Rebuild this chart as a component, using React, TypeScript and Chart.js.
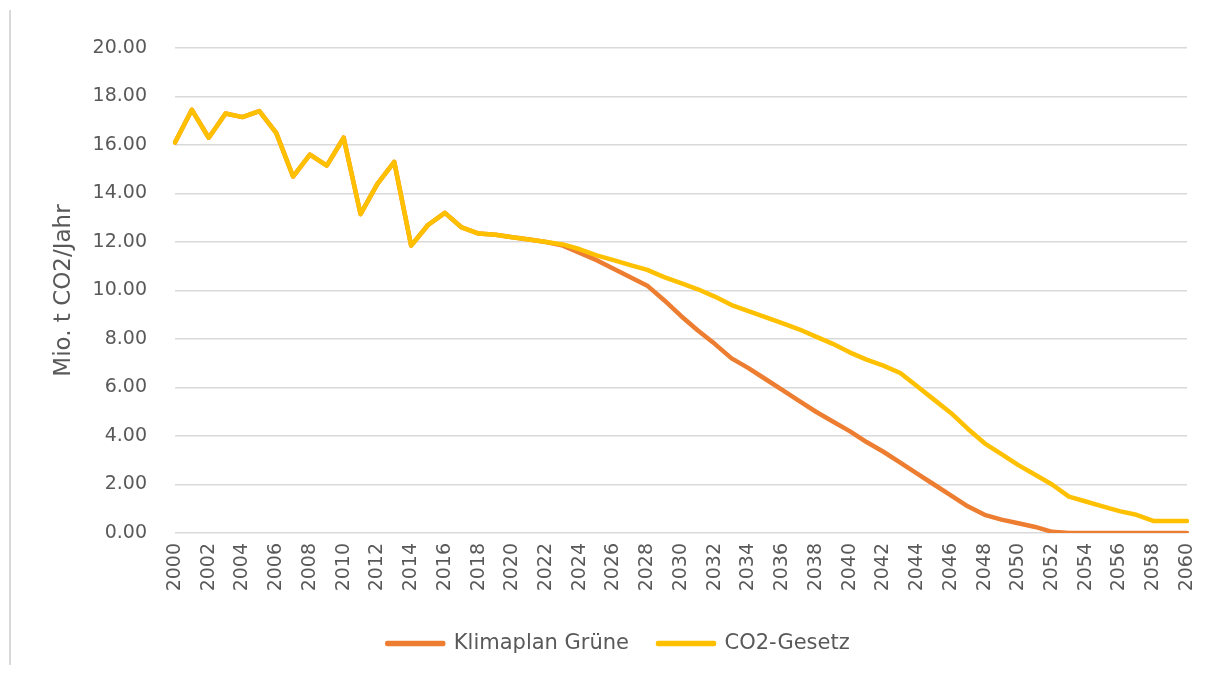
import React, { useEffect, useRef } from "react";
import { Chart, registerables } from "chart.js";

Chart.register(...registerables);

const years = [
  "2000", "2001", "2002", "2003", "2004", "2005", "2006", "2007", "2008", "2009",
  "2010", "2011", "2012", "2013", "2014", "2015", "2016", "2017", "2018", "2019",
  "2020", "2021", "2022", "2023", "2024", "2025", "2026", "2027", "2028", "2029",
  "2030", "2031", "2032", "2033", "2034", "2035", "2036", "2037", "2038", "2039",
  "2040", "2041", "2042", "2043", "2044", "2045", "2046", "2047", "2048", "2049",
  "2050", "2051", "2052", "2053", "2054", "2055", "2056", "2057", "2058", "2059",
  "2060",
];

const klimaplanGruene = [
  16.1, 17.45, 16.3, 17.3, 17.15, 17.4, 16.5, 14.7, 15.6, 15.15,
  16.3, 13.15, 14.4, 15.3, 11.85, 12.7, 13.2, 12.6, 12.35, 12.3,
  12.2, 12.1, 12.0, 11.85, 11.55, 11.25, 10.9, 10.55, 10.2, 9.6,
  8.95, 8.35, 7.8, 7.2, 6.8, 6.35, 5.9, 5.45, 5.0, 4.6,
  4.2, 3.75, 3.35, 2.9, 2.45, 2.0, 1.55, 1.1, 0.75, 0.55,
  0.4, 0.25, 0.05, 0, 0, 0, 0, 0, 0, 0,
  0,
];

const co2Gesetz = [
  16.1, 17.45, 16.3, 17.3, 17.15, 17.4, 16.5, 14.7, 15.6, 15.15,
  16.3, 13.15, 14.4, 15.3, 11.85, 12.7, 13.2, 12.6, 12.35, 12.3,
  12.2, 12.1, 12.0, 11.9, 11.7, 11.45, 11.25, 11.05, 10.85, 10.55,
  10.3, 10.05, 9.75, 9.4, 9.15, 8.9, 8.65, 8.4, 8.1, 7.8,
  7.45, 7.15, 6.9, 6.6, 6.05, 5.5, 4.95, 4.3, 3.7, 3.25,
  2.8, 2.4, 2.0, 1.5, 1.3, 1.1, 0.9, 0.75, 0.5, 0.5,
  0.5,
];

const yMin = 0;
const yMax = 20;
const yStep = 2;

const FONT = "DejaVu Sans";
const TEXT = "#595959";

export default function App() {
  const ref = useRef<HTMLCanvasElement>(null);

  useEffect(() => {
    if (!ref.current) return;
    const chart = new Chart(ref.current, {
      type: "line",
      data: {
        labels: years,
        datasets: [
          {
            label: "Klimaplan Grüne",
            data: klimaplanGruene,
            borderColor: "#ED7D31",
            backgroundColor: "#ED7D31",
            borderWidth: 4.5,
            pointRadius: 0,
            tension: 0,
            borderJoinStyle: "round",
            borderCapStyle: "round",
            order: 2,
          },
          {
            label: "CO2-Gesetz",
            data: co2Gesetz,
            borderColor: "#FFC000",
            backgroundColor: "#FFC000",
            borderWidth: 4.5,
            pointRadius: 0,
            tension: 0,
            borderJoinStyle: "round",
            borderCapStyle: "round",
            order: 1,
          },
        ],
      },
      options: {
        responsive: false,
        animation: false,
        layout: { padding: { left: 50, right: 25, top: 48, bottom: 10 } },
        plugins: {
          tooltip: { enabled: false },
          legend: {
            position: "bottom",
            labels: {
              boxWidth: 56,
              boxHeight: 1,
              padding: 29,
              color: TEXT,
              font: { family: FONT, size: 21 },
              sort: (a: any, b: any) => a.datasetIndex - b.datasetIndex,
            },
          },
        },
        scales: {
          x: {
            offset: false,
            grid: { display: false, drawTicks: false },
            border: { display: false },
            ticks: {
              autoSkip: false,
              maxRotation: 90,
              minRotation: 90,
              padding: 10,
              color: TEXT,
              font: { family: FONT, size: 19 },
              callback: (_v: any, i: number) => (i % 2 === 0 ? years[i] : ""),
            },
            afterFit: (s: any) => {
              s.height = 71;
              s.paddingRight = 0;
              s.paddingLeft = 0;
            },
          },
          y: {
            min: yMin,
            max: yMax,
            grid: { color: "#d9d9d9", lineWidth: 1.5, drawTicks: false },
            border: { display: false },
            ticks: {
              stepSize: yStep,
              padding: 28,
              color: TEXT,
              font: { family: FONT, size: 19 },
              callback: (v: any) => Number(v).toFixed(2),
            },
            title: {
              display: true,
              text: "Mio. t CO2/Jahr",
              color: TEXT,
              padding: 0,
              font: { family: FONT, size: 23 },
            },
            afterFit: (s: any) => {
              s.width = 125;
            },
          },
        },
      },
    });
    return () => chart.destroy();
  }, []);

  return (
    <div style={{ position: "fixed", left: 0, top: 0, width: 1212, height: 674, background: "#ffffff" }}>
      <div style={{ position: "absolute", left: 9, top: 10, width: 2, height: 655, background: "#d9d9d9" }} />
      <canvas ref={ref} width={1212} height={674} style={{ position: "absolute", left: 0, top: 0 }} />
    </div>
  );
}
